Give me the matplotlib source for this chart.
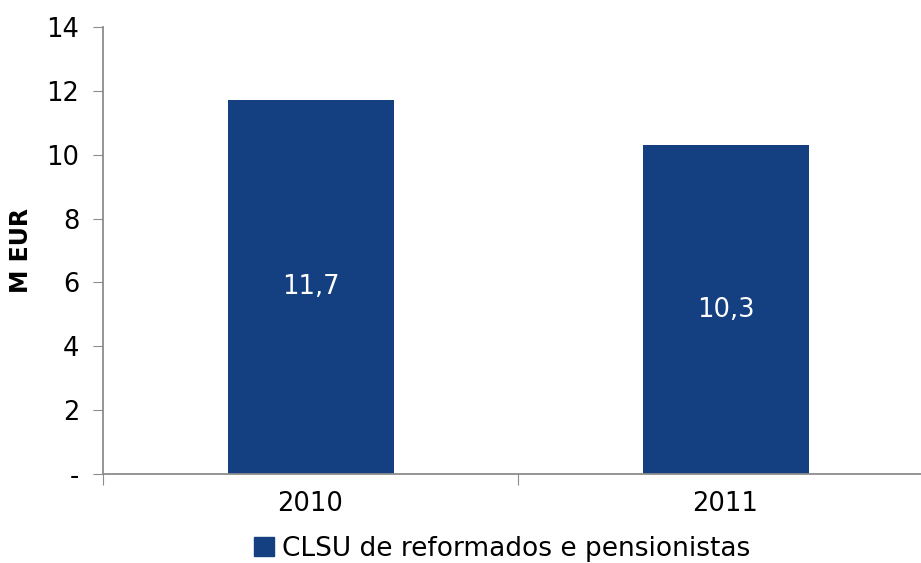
import matplotlib.pyplot as plt
from matplotlib.patches import Patch

# data
years = ["2010", "2011"]
values = [11.7, 10.3]
value_labels = ["11,7", "10,3"]
series_name = "CLSU de reformados e pensionistas"
yticks = [0, 2, 4, 6, 8, 10, 12, 14]
ytick_labels = ["-", "2", "4", "6", "8", "10", "12", "14"]

bar_color = "#143F80"
axis_color = "#8C8C8C"
fs = 18.5

plt.rcParams["font.family"] = "DejaVu Sans"

fig = plt.figure(figsize=(9.21, 5.63), dpi=100)
# axes from x=103 to 933 px, y=27 to 474 px
ax = fig.add_axes([103 / 921, 1 - 474 / 563, 830 / 921, 447 / 563])

x = list(range(len(years)))
bars = ax.bar(x, values, width=0.4, color=bar_color)

for b, lab in zip(bars, value_labels):
    ax.text(b.get_x() + b.get_width() / 2, b.get_height() / 2, lab,
            ha="center", va="center", color="white", fontsize=fs)

ax.set_xlim(-0.5, 1.5)
ax.set_ylim(0, 14)
ax.set_yticks(yticks)
ax.set_yticklabels(ytick_labels, fontsize=fs)
ax.set_xticks([-0.5, 0.5, 1.5], minor=False)
ax.set_xticklabels([])
ax.set_xticks(x, minor=True)
ax.set_xticklabels(years, minor=True, fontsize=fs)
ax.tick_params(axis="x", which="minor", length=0, pad=12)
ax.tick_params(axis="x", which="major", length=8, color=axis_color, direction="out")
ax.tick_params(axis="y", length=7, color=axis_color, pad=10)

for side in ["top", "right"]:
    ax.spines[side].set_visible(False)
for side in ["left", "bottom"]:
    ax.spines[side].set_color(axis_color)
    ax.spines[side].set_linewidth(1.3)

ax.set_ylabel("M EUR", fontsize=17, fontweight="bold", labelpad=10)

fig.legend(handles=[Patch(color=bar_color, label=series_name)],
           loc="center", bbox_to_anchor=(502 / 921, 1 - 549 / 563),
           frameon=False, fontsize=19, handlelength=0.75, handleheight=0.75,
           handletextpad=0.3, borderaxespad=0)

fig.savefig("out.png", dpi=100)
